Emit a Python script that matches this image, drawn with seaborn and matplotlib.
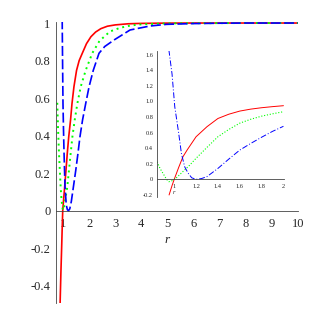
import numpy as np
import matplotlib
matplotlib.use("Agg")
import matplotlib.pyplot as plt
import seaborn as sns
from matplotlib.ticker import MultipleLocator, FixedLocator, FixedFormatter

# main plot, values
r_red = [0.88, 0.89, 0.92, 0.95, 0.97, 0.99, 1.03, 1.065, 1.115, 1.165, 1.22, 1.29,
         1.345, 1.42, 1.52, 1.62, 1.74, 1.9, 2.07, 2.25, 2.45, 2.7, 3.0, 3.5, 4.0,
         5.0, 6.0, 8.0, 10.0]
f_red = [-0.55, -0.49, -0.33, -0.19, -0.09, 0.0, 0.07, 0.128, 0.216, 0.307, 0.394,
         0.484, 0.571, 0.661, 0.748, 0.8, 0.839, 0.89, 0.927, 0.952, 0.97, 0.983,
         0.99, 0.996, 0.998, 0.9995, 1.0, 1.0, 1.0]

r_green = [0.78, 0.81, 0.847, 0.88, 0.91, 0.94, 0.973, 1.0, 1.04, 1.1, 1.165, 1.23,
           1.295, 1.36, 1.45, 1.55, 1.68, 1.87, 2.12, 2.4, 2.8, 3.2, 3.6, 4.0, 5.0,
           6.0, 8.0, 10.0]
f_green = [0.575, 0.44, 0.307, 0.21, 0.128, 0.065, 0.02, 0.003, 0.02, 0.07, 0.128,
           0.216, 0.307, 0.394, 0.484, 0.571, 0.661, 0.748, 0.839, 0.905, 0.955,
           0.975, 0.987, 0.993, 0.998, 0.999, 1.0, 1.0]

r_blue = [0.97, 0.973, 0.985, 1.0, 1.02, 1.04, 1.077, 1.126, 1.17, 1.21, 1.26, 1.32,
          1.4, 1.49, 1.575, 1.65, 1.75, 1.87, 2.0, 2.16, 2.38, 2.6, 2.96, 3.57,
          4.33, 4.97, 6.0, 7.0, 8.0, 10.0]
f_blue = [1.02, 0.96, 0.78, 0.571, 0.43, 0.31, 0.128, 0.03, 0.005, 0.0, 0.01, 0.05,
          0.128, 0.216, 0.307, 0.394, 0.484, 0.571, 0.661, 0.748, 0.839, 0.875,
          0.91, 0.963, 0.984, 0.993, 0.997, 0.999, 1.0, 1.0]

main_xticks = [1, 2, 3, 4, 5, 6, 7, 8, 9, 10]
main_yticks = [-0.4, -0.2, 0, 0.2, 0.4, 0.6, 0.8, 1]
main_ylabels = ["-0.4", "-0.2", "0", "0.2", "0.4", "0.6", "0.8", "1"]

# inset plot, values
ri_red = [0.953, 0.98, 1.0, 1.04, 1.08, 1.12, 1.2, 1.3, 1.4, 1.5, 1.6, 1.7, 1.8,
          1.9, 2.0]
fi_red = [-0.2, -0.08, 0.0, 0.15, 0.29, 0.38, 0.546, 0.675, 0.78, 0.835, 0.875,
          0.9, 0.918, 0.932, 0.944]

ri_green = [0.844, 0.87, 0.9, 0.93, 0.95, 0.97, 0.99, 1.02, 1.08, 1.14, 1.2, 1.3,
            1.4, 1.5, 1.6, 1.7, 1.8, 1.9, 2.0]
fi_green = [0.226, 0.14, 0.07, 0.0, -0.03, -0.025, -0.01, 0.02, 0.1, 0.18, 0.27,
            0.41, 0.546, 0.64, 0.72, 0.77, 0.81, 0.84, 0.867]

ri_blue = [0.951, 0.98, 1.005, 1.04, 1.066, 1.096, 1.127, 1.16, 1.2, 1.25, 1.3, 1.4,
           1.5, 1.6, 1.7, 1.8, 1.9, 2.0]
fi_blue = [1.66, 1.35, 0.93, 0.6, 0.33, 0.16, 0.08, 0.02, 0.0, 0.01, 0.035, 0.14,
           0.26, 0.375, 0.46, 0.54, 0.615, 0.68]

inset_xticks = [1, 1.2, 1.4, 1.6, 1.8, 2]
inset_xlabels = ["1", "1.2", "1.4", "1.6", "1.8", "2"]
inset_yticks = [-0.2, 0, 0.2, 0.4, 0.6, 0.8, 1.0, 1.2, 1.4, 1.6]
inset_ylabels = ["-0.2", "0", "0.2", "0.4", "0.6", "0.8", "1.0", "1.2", "1.4", "1.6"]

sns.set_style("white")
plt.rcParams["font.family"] = ["Liberation Serif", "DejaVu Serif"]

RED, GREEN, BLUE = "#ff0000", "#00ff00", "#0000ff"
AXC = "#444444"


def style_axes(ax, size, ticklen):
    for s in ["top", "right"]:
        ax.spines[s].set_visible(False)
    ax.spines["bottom"].set_position(("data", 0))
    for s in ["left", "bottom"]:
        ax.spines[s].set_color(AXC)
        ax.spines[s].set_linewidth(0.6)
    ax.tick_params(axis="both", which="major", direction="out", length=ticklen,
                   width=0.6, color=AXC, labelsize=size, pad=1)
    ax.tick_params(axis="both", which="minor", direction="out", length=ticklen * 0.6,
                   width=0.5, color=AXC)
    ax.set_xlabel("")
    ax.set_ylabel("")
    ax.patch.set_alpha(0)


fig = plt.figure(figsize=(3.1, 3.1), dpi=100)

# main plot
ax = fig.add_axes([0.1813, 0.02355, 0.7797, 0.9052])
sns.lineplot(x=r_red, y=f_red, ax=ax, color=RED, lw=1.2, sort=False)
sns.lineplot(x=r_green, y=f_green, ax=ax, color=GREEN, lw=1.4,
             linestyle=(0, (1, 2)), sort=False)
sns.lineplot(x=r_blue, y=f_blue, ax=ax, color=BLUE, lw=1.2,
             linestyle=(0, (6, 2)), sort=False)
ax.set_xlim(0.74, 10)
ax.set_ylim(-0.49, 1.005)
style_axes(ax, 9, 3)
ax.xaxis.set_major_locator(FixedLocator(main_xticks))
ax.xaxis.set_major_formatter(FixedFormatter([str(t) for t in main_xticks]))
ax.xaxis.set_minor_locator(MultipleLocator(0.5))
ax.yaxis.set_major_locator(FixedLocator(main_yticks))
ax.yaxis.set_major_formatter(FixedFormatter(main_ylabels))
ax.yaxis.set_minor_locator(MultipleLocator(0.1))
ax.tick_params(axis="x", pad=2)
ax.text(5.0, -0.155, "r", style="italic", fontsize=9.5, ha="center", va="center")

# inset
ax2 = fig.add_axes([0.5074, 0.3661, 0.4087, 0.4706])
sns.lineplot(x=ri_red, y=fi_red, ax=ax2, color=RED, lw=0.7, sort=False)
sns.lineplot(x=ri_green, y=fi_green, ax=ax2, color=GREEN, lw=0.8,
             linestyle=(0, (1, 1.6)), sort=False)
sns.lineplot(x=ri_blue, y=fi_blue, ax=ax2, color=BLUE, lw=0.7,
             linestyle=(0, (6, 2, 1, 2)), sort=False)
ax2.set_xlim(0.845, 2.005)
ax2.set_ylim(-0.22, 1.65)
style_axes(ax2, 4.6, 2)
ax2.xaxis.set_major_locator(FixedLocator(inset_xticks))
ax2.xaxis.set_major_formatter(FixedFormatter(inset_xlabels))
ax2.xaxis.set_minor_locator(MultipleLocator(0.1))
ax2.yaxis.set_major_locator(FixedLocator(inset_yticks))
ax2.yaxis.set_major_formatter(FixedFormatter(inset_ylabels))
ax2.yaxis.set_minor_locator(MultipleLocator(0.1))
ax2.text(1.0, -0.17, "r", style="italic", fontsize=4.6, ha="center", va="center")

fig.savefig("out.png", dpi=100)
